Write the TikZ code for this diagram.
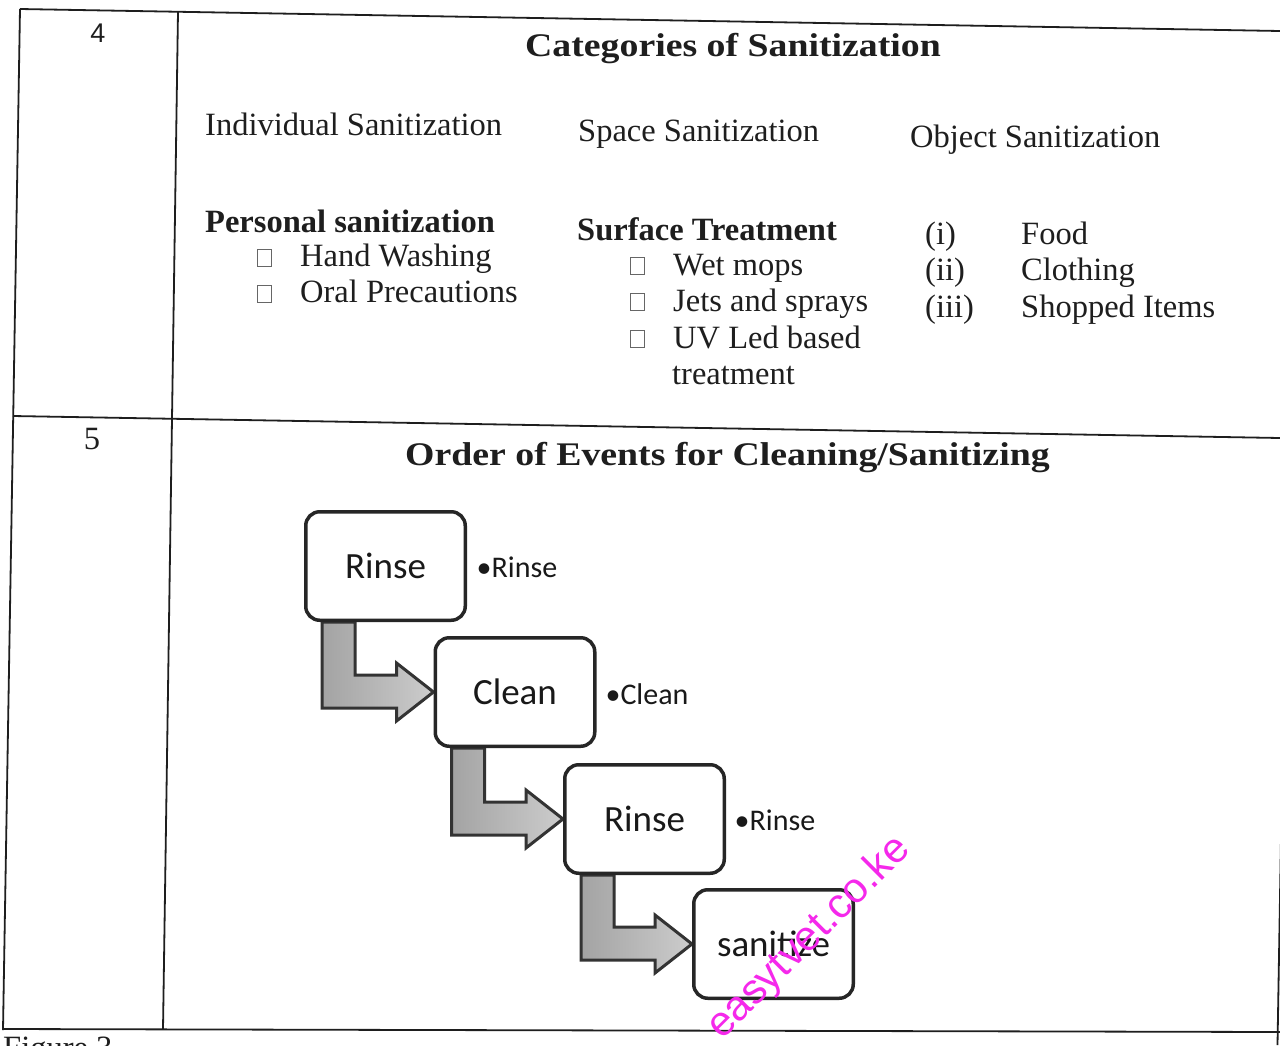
\documentclass[tikz,border=0pt]{standalone}
\usepackage{fontspec}
\setmainfont{Liberation Serif}
\newfontfamily\calib{Carlito}
\newfontfamily\sansf{Liberation Sans}
\usetikzlibrary{calc}
\pgfdeclarelayer{bg}
\pgfsetlayers{bg,main}
\definecolor{wmc}{RGB}{245,40,235}
\definecolor{ink}{RGB}{30,30,30}
\begin{document}
\begin{tikzpicture}[x=1pt,y=-1pt,
  rule/.style={line width=1.8pt, draw=ink},
  txt/.style={anchor=base west, inner sep=0pt, text=ink, font=\fontsize{32.5}{39}\selectfont},
  btxt/.style={anchor=base west, inner sep=0pt, text=ink, font=\fontsize{32.5}{39}\selectfont\bfseries},
  ttl/.style={anchor=base west, inner sep=0pt, text=ink, font=\fontsize{33}{40}\selectfont\bfseries},
  chk/.style={draw=black!60, line width=0.9pt, minimum width=14pt, minimum height=17pt, inner sep=0pt},
  stepbox/.style={draw=black!85, line width=3.5pt, rounded corners=14pt, minimum width=159.5pt, minimum height=108.5pt, fill=white, font=\calib\fontsize{37}{44}\selectfont, text=black!90},
  steplbl/.style={font=\calib\fontsize{30}{36}\selectfont, text=black!90, inner sep=0pt},
  bendarrow/.style={draw=black!80, line width=3pt, line join=miter, left color=black!36, right color=black!20},
]
\useasboundingbox (0,0) rectangle (1280,1045);
\clip (0,0) rectangle (1280,1045);

% table rules
\draw[rule] (20,9) -- (1280,31);
\draw[rule] (20,9) -- (3,1030);
\draw[rule] (178,11.8) -- (163,1029.5);
\draw[rule] (13,416) -- (1280,438);
\draw[rule] (3,1029) -- (1282,1032);
\draw[rule] (1294.6,31) -- (1277.5,1045);

% row numbers
\node[anchor=base, inner sep=0pt, text=ink, font=\sansf\fontsize{27}{32}\selectfont] (n4) at (98,42) {4};
\node[anchor=base, inner sep=0pt, text=ink, font=\fontsize{32.5}{39}\selectfont] (n5) at (92,449) {5};

% row 4
\node[ttl] (t1) at (525,56) {\scalebox{1.145}[1]{Categories of Sanitization}};
\node[txt] (c1) at (205,135) {Individual Sanitization};
\node[txt] (c2) at (578,141) {Space Sanitization};
\node[txt] (c3) at (910,147) {Object Sanitization};

\node[btxt] (h1) at (205,232) {Personal sanitization};
\node[chk] (k1) at (264,258) {};
\node[txt] (i1) at (300,266) {Hand Washing};
\node[chk] (k2) at (264,294) {};
\node[txt] (i2) at (300,302) {Oral Precautions};

\node[btxt] (h2) at (577,240) {Surface Treatment};
\node[chk] (k3) at (637,266) {};
\node[txt] (s1) at (673,275) {Wet mops};
\node[chk] (k4) at (637,302) {};
\node[txt] (s2) at (673,311) {Jets and sprays};
\node[chk] (k5) at (637,339) {};
\node[txt] (s3) at (673,348) {UV Led based};
\node[txt] (s4) at (672,384) {treatment};

\node[txt] (r1) at (925,244) {(i)};
\node[txt] (o1) at (1021,244) {Food};
\node[txt] (r2) at (925,280) {(ii)};
\node[txt] (o2) at (1021,280) {Clothing};
\node[txt] (r3) at (925,317) {(iii)};
\node[txt] (o3) at (1021,317) {Shopped Items};

% row 5
\node[ttl] (t2) at (405,465) {\scalebox{1.145}[1]{Order of Events for Cleaning/Sanitizing}};

\node[stepbox] (b1) at (385.5,566) {Rinse};
\node[stepbox] (b2) at (515,692) {Clean};
\node[stepbox] (b3) at (644.5,819) {Rinse};
\node[stepbox] (b4) at (773.5,944) {sanitize};

\node[steplbl] (l1) at (517,567) {\textbullet Rinse};
\node[steplbl] (l2) at (647,694) {\textbullet Clean};
\node[steplbl] (l3) at (775,820) {\textbullet Rinse};

\begin{pgfonlayer}{bg}
\fill[white] (0,0) rectangle (1280,1045);
\foreach \a/\b in {b1/b2,b2/b3,b3/b4}{
  \path[bendarrow] ([xshift=18pt]\a.south west) -- ([xshift=51pt]\a.south west)
    |- ([xshift=-37pt,yshift=17pt]\b.west) -- ([xshift=-37pt,yshift=29pt]\b.west)
    -- (\b.west) -- ([xshift=-37pt,yshift=-29pt]\b.west)
    -- ([xshift=-37pt,yshift=-16pt]\b.west) -| ([xshift=18pt]\a.south west) -- cycle;
}
\end{pgfonlayer}

% caption (cut off)
\node[txt] (fig) at (3,1058) {Figure 3};

% watermark
\node[rotate=45, anchor=base, inner sep=0pt, text=wmc, font=\sansf\fontsize{42}{50}\selectfont] (wm) at (817,946) {easytvet.co.ke};
\end{tikzpicture}
\end{document}
